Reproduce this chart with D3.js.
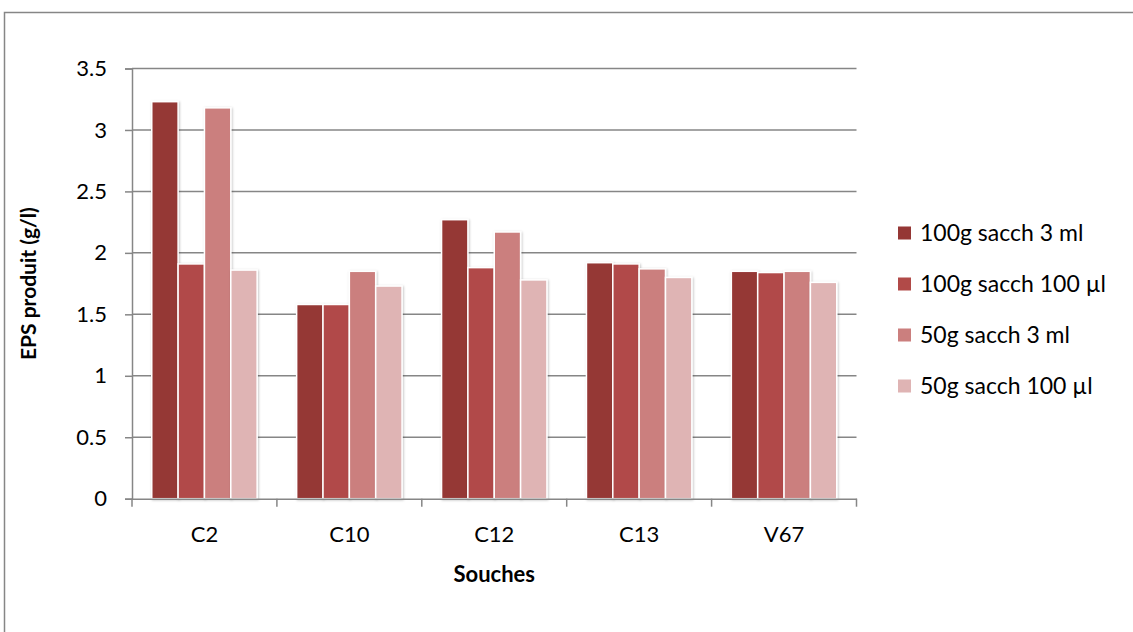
<!DOCTYPE html>
<html>
<head>
<meta charset="utf-8">
<script src="https://cdn.jsdelivr.net/npm/d3@7/dist/d3.min.js"></script>
<style>
  html, body { margin: 0; padding: 0; background: #fff; overflow: hidden; }
  svg text { font-family: Lato, "Open Sans", sans-serif; fill: #000; }
</style>
</head>
<body>
<svg id="chart" width="1133" height="632"></svg>
<script>
// Souches (strains) on the x axis
const categories = ["C2", "C10", "C12", "C13", "V67"];
// Culture conditions (one bar per condition in each group)
const seriesNames = ["100g sacch 3 ml", "100g sacch 100 µl", "50g sacch 3 ml", "50g sacch 100 µl"];
// EPS produced (g/l), one array per condition, in category order
const s100g3ml   = [3.23, 1.58, 2.27, 1.92, 1.85];
const s100g100ul = [1.91, 1.58, 1.88, 1.91, 1.84];
const s50g3ml    = [3.18, 1.85, 2.17, 1.87, 1.85];
const s50g100ul  = [1.86, 1.73, 1.78, 1.80, 1.76];
const yTicks = [0, 0.5, 1, 1.5, 2, 2.5, 3, 3.5];
const colors = ["#953735", "#B14A48", "#CB7F7E", "#DFB4B4"];

const seriesValues = [s100g3ml, s100g100ul, s50g3ml, s50g100ul];

const svg = d3.select("#chart");

// chart frame
svg.append("rect")
  .attr("x", 4.5).attr("y", 12.5)
  .attr("width", 1140).attr("height", 640)
  .attr("fill", "#fff").attr("stroke", "#868686").attr("stroke-width", 1.5);

const defs = svg.append("defs");
const f = defs.append("filter").attr("id", "shadow")
  .attr("x", "-20%").attr("y", "-5%").attr("width", "140%").attr("height", "110%");
f.append("feDropShadow").attr("dx", 0.8).attr("dy", 0.8)
  .attr("stdDeviation", 1).attr("flood-color", "#000").attr("flood-opacity", 0.25);

const plotL = 132, plotR = 856.5, plotT = 68.5, plotB = 498.7;

const x0 = d3.scaleBand().domain(categories).range([plotL, plotR]).padding(0);
const y = d3.scaleLinear().domain([0, 3.5]).range([plotB, plotT]);
// within a category: 4 bars plus 1.5 bar widths of gap, split on both sides
const x1 = d3.scaleBand().domain(d3.range(seriesNames.length))
  .range([0, x0.bandwidth()]).paddingInner(0).paddingOuter(0.75);

// horizontal gridlines
svg.append("g").selectAll("line").data(yTicks.filter(t => t > 0)).join("line")
  .attr("x1", plotL).attr("x2", plotR)
  .attr("y1", d => y(d)).attr("y2", d => y(d))
  .attr("stroke", "#868686").attr("stroke-width", 1.5);

// y axis
const yAxis = svg.append("g").attr("transform", `translate(${plotL},0)`)
  .call(d3.axisLeft(y).tickValues(yTicks).tickSize(7).tickPadding(18)
    .tickFormat(d => d3.format("")(d)));
yAxis.select(".domain").attr("stroke", "#868686").attr("stroke-width", 1.5);
yAxis.selectAll(".tick line").attr("stroke", "#868686").attr("stroke-width", 1.5);
yAxis.selectAll("text").attr("font-size", 22).attr("font-family", "Lato, sans-serif").attr("fill", "#000");

// bars
const groups = svg.append("g").selectAll("g").data(categories).join("g")
  .attr("transform", d => `translate(${x0(d)},0)`);
groups.selectAll("rect")
  .data((c, ci) => seriesValues.map((vals, si) => ({ si, v: vals[ci] })))
  .join("rect")
  .attr("x", d => x1(d.si))
  .attr("y", d => y(d.v))
  .attr("width", x1.bandwidth())
  .attr("height", d => plotB - y(d.v))
  .attr("fill", d => colors[d.si])
  .attr("stroke", "#fff").attr("stroke-width", 1.5)
  .attr("filter", "url(#shadow)");

// x axis
const xAxis = svg.append("g").attr("transform", `translate(0,${plotB})`)
  .call(d3.axisBottom(x0).tickSize(0).tickPadding(28));
xAxis.select(".domain").attr("stroke", "#868686").attr("stroke-width", 1.5);
xAxis.selectAll("text").attr("font-size", 22).attr("font-family", "Lato, sans-serif").attr("fill", "#000");
// category boundary ticks
svg.append("g").selectAll("line")
  .data(categories.map(c => x0(c)).concat([plotR])).join("line")
  .attr("x1", d => d).attr("x2", d => d)
  .attr("y1", plotB).attr("y2", plotB + 8)
  .attr("stroke", "#868686").attr("stroke-width", 1.5);

// axis titles
svg.append("text")
  .attr("x", (plotL + plotR) / 2).attr("y", 582)
  .attr("text-anchor", "middle").attr("font-size", 22).attr("font-weight", "bold")
  .text("Souches");
svg.append("text")
  .attr("transform", `translate(36,${(plotT + plotB) / 2}) rotate(-90)`)
  .attr("text-anchor", "middle").attr("font-size", 21).attr("font-weight", "bold")
  .text("EPS produit (g/l)");

// legend
const legend = svg.append("g").selectAll("g").data(seriesNames).join("g")
  .attr("transform", (d, i) => `translate(898,${233 + i * 51})`);
legend.append("rect")
  .attr("x", 0).attr("y", -6.5).attr("width", 13).attr("height", 13)
  .attr("fill", (d, i) => colors[i]);
legend.append("text")
  .attr("x", 22).attr("y", 8)
  .attr("font-size", 23)
  .text(d => d);
</script>
</body>
</html>
